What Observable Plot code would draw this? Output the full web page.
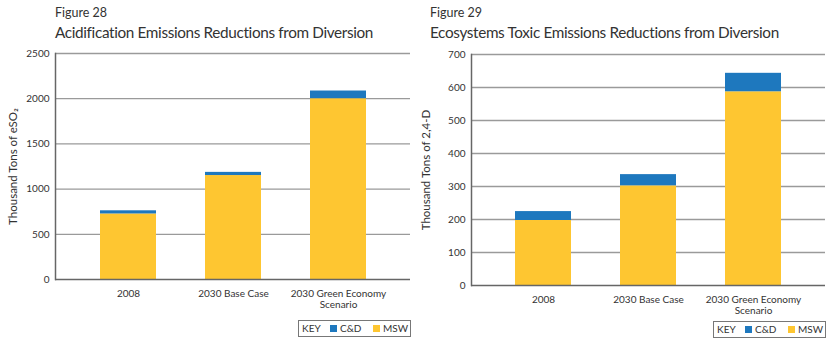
<!DOCTYPE html>
<html>
<head>
<meta charset="utf-8">
<script src="https://cdn.jsdelivr.net/npm/d3@7"></script>
<script src="https://cdn.jsdelivr.net/npm/@observablehq/plot@0.6"></script>
<style>
  html, body { margin: 0; padding: 0; background: #fff; }
  body { width: 826px; height: 345px; position: relative; overflow: hidden; font-family: Lato, "Open Sans", sans-serif; color: #222; }
  .panel { position: absolute; top: 0; width: 413px; height: 345px; }
  .panel svg { position: absolute; left: 0; top: 0; }
  .fig { position: absolute; font-size: 12.5px; color: #333; }
  .title { position: absolute; font-size: 15.3px; color: #333; white-space: nowrap; letter-spacing: -0.35px; }
  .key { position: absolute; width: 113px; height: 17px; border: 1px solid #777; font-size: 10px; box-sizing: border-box; color: #333; background: #fff; }
  .key span { position: absolute; top: 1px; line-height: 13px; }
  .key i { position: absolute; top: 4px; width: 7px; height: 7px; }
</style>
</head>
<body>
<script>
// Categories and stacked values (thousand tons) for both figures
const categories = ["2008", "2030 Base Case", "2030 Green Economy Scenario"];
const tickLabels = ["2008", "2030 Base Case", "2030 Green Economy\nScenario"];
const seriesNames = ["MSW", "C&D"];
const seriesColors = ["#FEC631", "#1E78BE"];

const acidMSW = [725, 1150, 2000];
const acidCD = [35, 35, 85];

const toxicMSW = [197, 302, 587];
const toxicCD = [27, 34, 56];

function rows(msw, cd) {
  const out = [];
  categories.forEach((c, i) => {
    out.push({category: c, series: "MSW", value: msw[i]});
    out.push({category: c, series: "C&D", value: cd[i]});
  });
  return out;
}

function chart({data, yMax, yStep, yLabel, marginTop, marginBottom, marginLeft, marginRight}) {
  const ticks = d3.range(0, yMax + 1, yStep);
  return Plot.plot({
    width: 413,
    height: 345,
    marginTop, marginBottom, marginLeft, marginRight,
    style: {fontFamily: "Lato, 'Open Sans', sans-serif", fontSize: "10px", color: "#333", background: "transparent"},
    x: {domain: categories, paddingInner: 0.47, paddingOuter: 0.41},
    y: {domain: [0, yMax]},
    color: {domain: seriesNames, range: seriesColors},
    marks: [
      Plot.gridY(ticks.slice(1), {stroke: "#9a9a9a", strokeOpacity: 1, strokeWidth: 1.3}),
      Plot.barY(data, {x: "category", y: "value", fill: "series", order: seriesNames}),
      Plot.ruleY([0], {stroke: "#666", strokeWidth: 1.5}),
      Plot.frame({anchor: "left", stroke: "#666", strokeWidth: 1.5}),
      Plot.axisX({tickSize: 0, tickPadding: 10, label: null, lineHeight: 1.1, fontSize: 10,
                  tickFormat: d => tickLabels[categories.indexOf(d)]}),
      Plot.axisY({ticks, tickSize: 0, tickPadding: 6, label: null, tickFormat: d => String(d)}),
      Plot.text([yLabel], {frameAnchor: "left", textAnchor: "middle", dx: -marginLeft + 13, rotate: -90, fontSize: 11.5, fill: "#333"})
    ]
  });
}

function panel(left, fig, title, svg, keyLeft, keyTop, figLeft) {
  const p = document.createElement("div");
  p.className = "panel";
  p.style.left = left + "px";
  p.appendChild(svg);
  const f = document.createElement("div");
  f.className = "fig"; f.textContent = fig;
  f.style.left = figLeft + "px"; f.style.top = "5px";
  const t = document.createElement("div");
  t.className = "title"; t.textContent = title;
  t.style.left = figLeft + "px"; t.style.top = "23px";
  const k = document.createElement("div");
  k.className = "key";
  k.style.left = keyLeft + "px"; k.style.top = keyTop + "px";
  k.innerHTML = '<span style="left:3px">KEY</span>' +
    '<i style="left:31px;background:' + seriesColors[1] + '"></i><span style="left:41px">C&amp;D</span>' +
    '<i style="left:74px;background:' + seriesColors[0] + '"></i><span style="left:84px">MSW</span>';
  p.append(f, t, k);
  document.body.appendChild(p);
}

panel(0, "Figure 28", "Acidification Emissions Reductions from Diversion",
  chart({data: rows(acidMSW, acidCD), yMax: 2500, yStep: 500, yLabel: "Thousand Tons of eSO\u2082",
         marginTop: 53, marginBottom: 66, marginLeft: 55, marginRight: 3}),
  298, 320, 55);

panel(413, "Figure 29", "Ecosystems Toxic Emissions Reductions from Diversion",
  chart({data: rows(toxicMSW, toxicCD), yMax: 700, yStep: 100, yLabel: "Thousand Tons of 2,4-D",
         marginTop: 54, marginBottom: 60, marginLeft: 58, marginRight: 1}),
  300, 321, 17);
</script>
</body>
</html>
